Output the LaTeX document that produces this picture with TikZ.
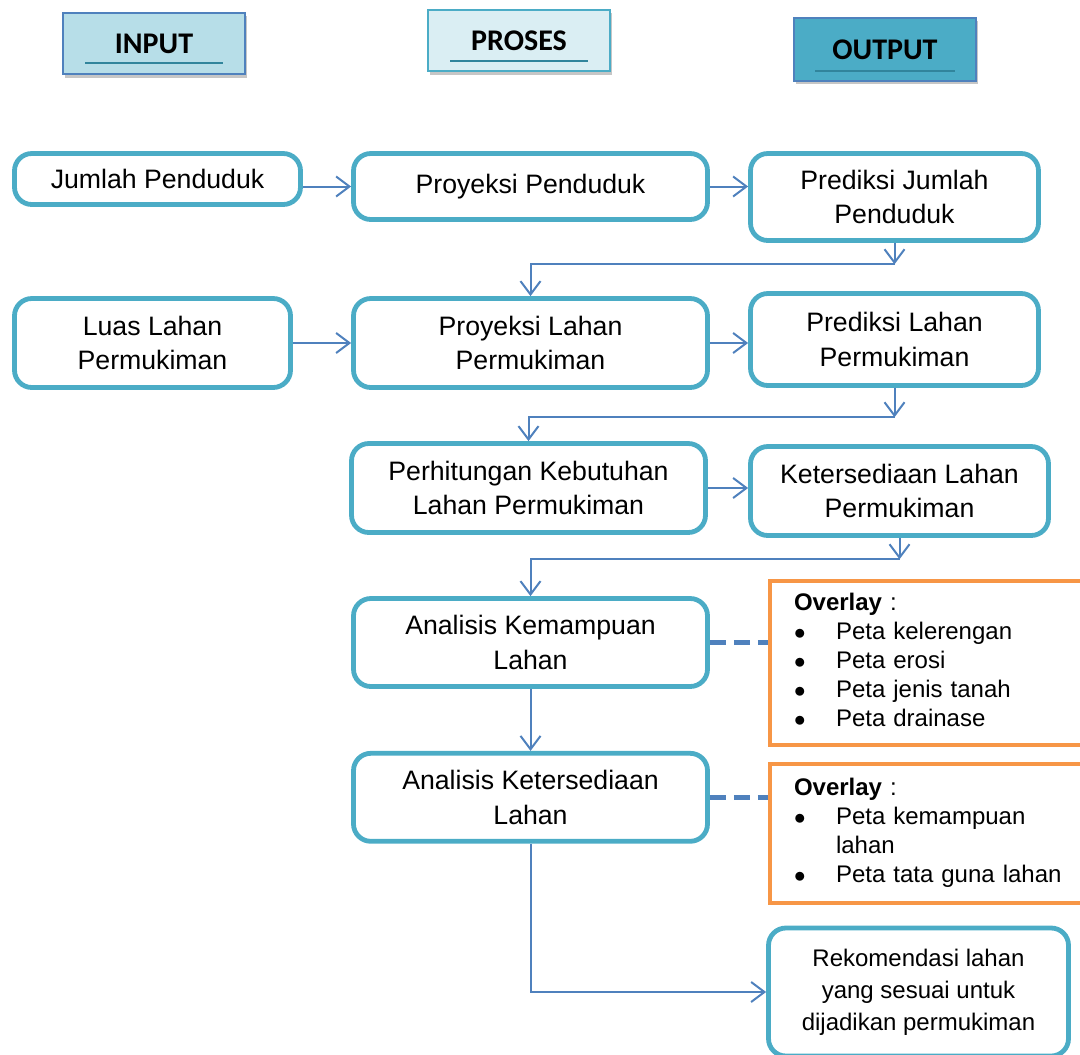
\documentclass[tikz,border=0pt]{standalone}
\usepackage{fontspec}
\setmainfont{Liberation Sans}
\newfontfamily\hdfont{Carlito}
\usetikzlibrary{positioning,arrows.meta,shadows}
\definecolor{boxblue}{HTML}{4BACC6}
\definecolor{linkblue}{HTML}{4F81BD}
\definecolor{inputfill}{HTML}{B7DEE8}
\definecolor{prosesfill}{HTML}{DAEEF3}
\definecolor{rulecol}{HTML}{31859C}
\definecolor{overlayorange}{HTML}{F79646}

\begin{document}
\begin{tikzpicture}[x=0.75pt, y=-0.75pt,
    hdbox/.style={draw=linkblue, line width=1.2pt, minimum width=136.5pt, minimum height=46pt, font=\hdfont\bfseries\fontsize{22.5}{26}\selectfont, drop shadow={shadow xshift=1.5pt, shadow yshift=-2.5pt, opacity=0.45}},
    flowbox/.style={draw=boxblue, line width=3.6pt, rounded corners=13pt, align=center, font=\fontsize{20}{26}\selectfont, inner sep=0pt},
    overlaybox/.style={draw=overlayorange, line width=3pt, align=left, text width=207pt, inner xsep=18pt, inner ysep=0pt, font=\fontsize{18}{21.75}\selectfont, anchor=north west},
    link/.style={draw=linkblue, line width=1.5pt, -{Straight Barb[length=10pt,width=15pt]}},
    dashlink/.style={draw=linkblue, line width=4pt, dash pattern=on 12pt off 6pt},
    hdline/.style={draw=rulecol, line width=1.2pt}]
    \useasboundingbox (0,0) rectangle (1080,1054);

    % column headers
    \node[hdbox, fill=inputfill] (input) at (154,43.5) {INPUT};
    \node[hdbox, fill=prosesfill, draw=boxblue] (proses) at (519,40.5) {PROSES};
    \node[hdbox, fill=boxblue, minimum height=47.25pt] (output) at (885,49.5) {OUTPUT};
    \draw[hdline] ([shift={(23,-12)}]input.south west) -- ([shift={(-23,-12)}]input.south east);
    \draw[hdline] ([shift={(23,-11)}]proses.south west) -- ([shift={(-23,-11)}]proses.south east);
    \draw[hdline] ([shift={(22,-11)}]output.south west) -- ([shift={(-22,-11)}]output.south east);

    % flow
    \node[flowbox, minimum width=214.5pt, minimum height=38.25pt] (jumlah) at (157.5,179) {Jumlah Penduduk};
    \node[flowbox, minimum width=265.5pt, minimum height=49.5pt] (proypend) at (530.5,186.5) {Proyeksi Penduduk};
    \node[flowbox, minimum width=216pt, minimum height=65.25pt] (predjml) at (894.5,197) {Prediksi Jumlah\\Penduduk};
    \node[flowbox, minimum width=207pt, minimum height=66.75pt] (luas) at (152.5,343) {Luas Lahan\\Permukiman};
    \node[flowbox, minimum width=265.5pt, minimum height=66.75pt] (proylahan) at (530.5,343) {Proyeksi Lahan\\Permukiman};
    \node[flowbox, minimum width=216pt, minimum height=69pt] (predlahan) at (894.5,339.5) {Prediksi Lahan\\Permukiman};
    \node[flowbox, minimum width=265.5pt, minimum height=66.75pt] (hitung) at (528.5,488) {Perhitungan Kebutuhan\\Lahan Permukiman};
    \node[flowbox, minimum width=223.5pt, minimum height=66.75pt] (sedia) at (899.5,491) {Ketersediaan Lahan\\Permukiman};
    \node[flowbox, minimum width=265.5pt, minimum height=66pt] (kemampuan) at (530.5,642.5) {Analisis Kemampuan\\Lahan};
    \node[flowbox, minimum width=265.5pt, minimum height=66pt, below=46.5pt of kemampuan] (ketersediaan) {Analisis Ketersediaan\\Lahan};
    \node[flowbox, minimum width=225pt, minimum height=96pt, font=\fontsize{18}{24}\selectfont] (rekom) at (918.5,992) {Rekomendasi lahan\\yang sesuai untuk\\dijadikan permukiman};

    % overlay notes
    \node[overlaybox, minimum height=123pt] (ov1) at (768,579) {%
      \begin{tabular}{@{}p{31.5pt}@{}l@{}}
        \multicolumn{2}{@{}l@{}}{\textbf{Overlay} :}\\
        $\bullet$ & Peta kelerengan\\
        $\bullet$ & Peta erosi\\
        $\bullet$ & Peta jenis tanah\\
        $\bullet$ & Peta drainase
      \end{tabular}};
    \node[overlaybox, minimum height=104pt] (ov2) at (768,762) {%
      \begin{tabular}{@{}p{31.5pt}@{}l@{}}
        \multicolumn{2}{@{}l@{}}{\textbf{Overlay} :}\\
        $\bullet$ & Peta kemampuan\\
                  & lahan\\
        $\bullet$ & Peta tata guna lahan
      \end{tabular}};

    \coordinate[below=16pt of predjml] (j1);
    \coordinate[below=22pt of predlahan] (j2);
    \coordinate[below=16pt of sedia] (j3);

    \draw[link] (proypend.west -| jumlah.east) -- (proypend.west);
    \draw[link] (proypend.east) -- (proypend.east -| predjml.west);
    \draw[link] (predjml.south) -- (j1);
    \draw[link] (j1) -| (proylahan.north);
    \draw[link] (luas) -- (proylahan);
    \draw[link] (proylahan.east) -- (proylahan.east -| predlahan.west);
    \draw[link] (predlahan.south) -- (j2);
    \draw[link] (j2) -| (hitung.north);
    \draw[link] (hitung.east) -- (hitung.east -| sedia.west);
    \draw[link] (sedia.south) -- (j3);
    \draw[link] (j3) -| (kemampuan.north);
    \draw[link] (kemampuan) -- (ketersediaan);
    \draw[link] (ketersediaan.south) |- (rekom.west);
    \draw[dashlink] (kemampuan.east) -- (kemampuan.east -| ov1.west);
    \draw[dashlink] (ketersediaan.east) -- (ketersediaan.east -| ov2.west);
\end{tikzpicture}
\end{document}
